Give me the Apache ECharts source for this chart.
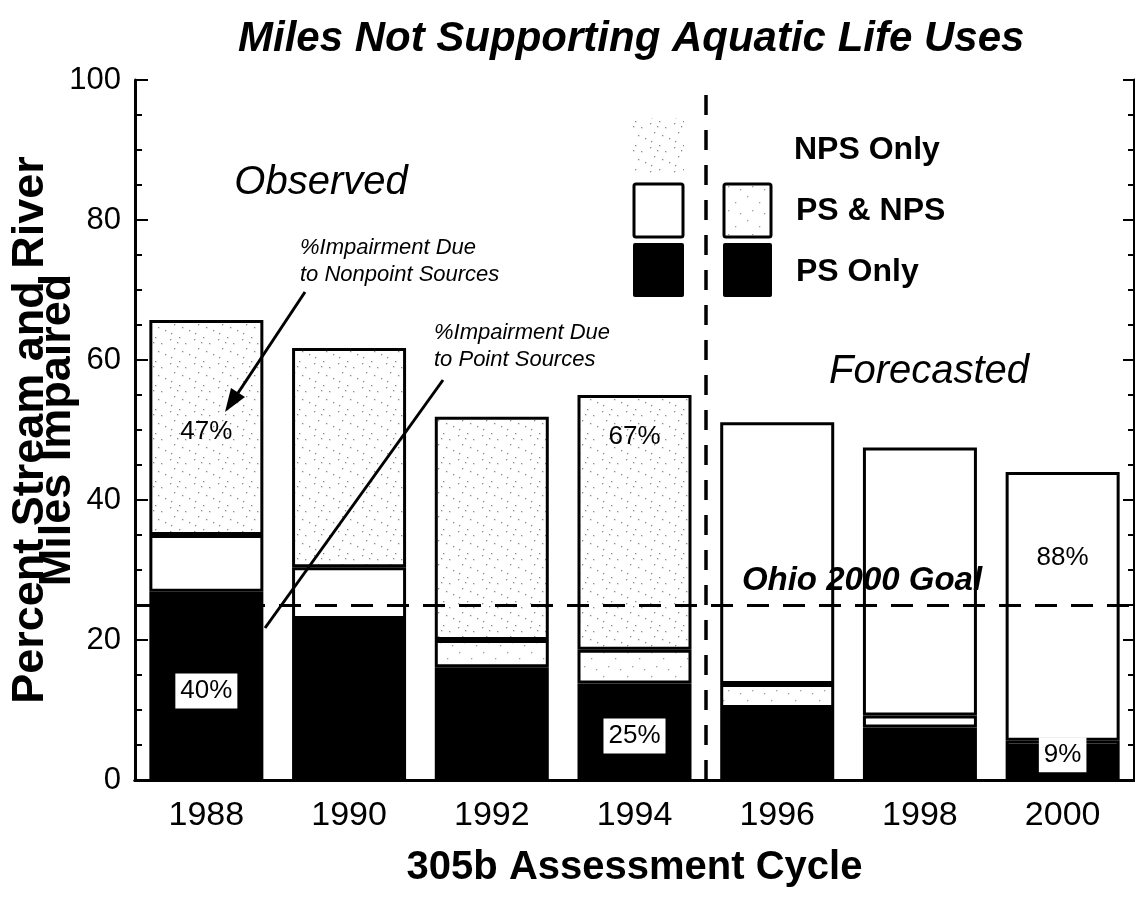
<!DOCTYPE html>
<html>
<head>
<meta charset="utf-8">
<title>Miles Not Supporting Aquatic Life Uses</title>
<script src="https://cdn.jsdelivr.net/npm/echarts@6/dist/echarts.min.js"></script>
<style>
  html, body { margin: 0; padding: 0; background: #fff; }
  #main { width: 1135px; height: 904px; }
</style>
</head>
<body>
<div id="main"></div>
<script>
// 数据
var years = ['1988', '1990', '1992', '1994', '1996', '1998', '2000'];
var psOnly = [26.9, 23.0, 16.1, 13.8, 10.3, 7.5, 4.7];
var psAndNps = [8.1, 7.4, 3.9, 4.8, 3.4, 1.7, 0.9];
var npsOnly = [30.7, 31.3, 31.9, 36.4, 37.4, 38.3, 38.4];
var observedCount = 4;   // 1988-1994 observed, rest forecasted
var goalValue = 25;      // Ohio 2000 Goal
var yTicks = [0, 20, 40, 60, 80, 100];

var FONT = '"Liberation Sans", Arial, Helvetica, sans-serif';

// stipple texture (fixed dot layout)
function makeStipple(dots, dotColor) {
    var c = document.createElement('canvas');
    c.width = 24; c.height = 24;
    var ctx = c.getContext('2d');
    ctx.fillStyle = '#fff';
    ctx.fillRect(0, 0, 24, 24);
    ctx.fillStyle = dotColor;
    dots.forEach(function (d) { ctx.fillRect(d[0], d[1], 1.3, 1.3); });
    return { image: c, repeat: 'repeat' };
}
var stippleDense = makeStipple([[2, 3], [11, 1], [17, 7], [6, 12], [14, 15], [21, 18], [3, 21], [9, 6]], '#8a8a8a');
var stippleLight = makeStipple([[3, 4], [15, 10], [8, 18], [20, 21]], '#a0a0a0');

var chart = echarts.init(document.getElementById('main'));

var psNpsData = psAndNps.map(function (v, i) {
    var lightDots = (i >= 2 && i <= 4);
    return { value: v, itemStyle: { color: lightDots ? stippleLight : '#fff' } };
});
var npsData = npsOnly.map(function (v, i) {
    return { value: v, itemStyle: { color: i < observedCount ? stippleDense : '#fff' } };
});

// percent labels on bars
var pctMarks = [
    { coord: ['1988', 49.7], value: '47%', boxed: false },
    { coord: ['1988', 12.7], value: '40%', boxed: true },
    { coord: ['1994', 49.0], value: '67%', boxed: false },
    { coord: ['1994', 6.3], value: '25%', boxed: true },
    { coord: ['2000', 31.7], value: '88%', boxed: false },
    { coord: ['2000', 3.6], value: '9%', boxed: true }
].map(function (m) {
    return {
        coord: m.coord,
        value: m.value,
        symbol: 'rect',
        symbolSize: 0,
        label: {
            show: true,
            position: 'inside',
            formatter: m.value,
            color: '#000',
            fontFamily: FONT,
            fontSize: 26,
            backgroundColor: m.boxed ? '#fff' : 'transparent',
            padding: m.boxed ? [5, 5, 4, 5] : 0
        }
    };
});

var barCommon = {
    type: 'bar',
    stack: 'total',
    barWidth: 114,
    animation: false,
    itemStyle: { borderColor: '#000', borderWidth: 3 },
    emphasis: { disabled: true }
};

var option = {
    backgroundColor: '#fff',
    animation: false,
    title: {
        text: 'Miles Not Supporting Aquatic Life Uses',
        left: 233,
        top: 13,
        textStyle: {
            fontFamily: FONT,
            fontSize: 42,
            fontWeight: 'bold',
            fontStyle: 'italic',
            color: '#000'
        }
    },
    grid: { left: 135, right: 1, top: 80, bottom: 124, containLabel: false, outerBoundsMode: 'none' },
    xAxis: [
        {
            type: 'category',
            data: years,
            position: 'bottom',
            axisLine: { lineStyle: { color: '#000', width: 3 } },
            axisTick: { inside: true, length: 14, lineStyle: { color: '#000', width: 2 } },
            axisLabel: { color: '#000', fontFamily: FONT, fontSize: 34, margin: 19 },
            name: '305b Assessment Cycle',
            nameLocation: 'middle',
            nameGap: 68,
            nameMoveOverlap: false,
            nameTextStyle: { color: '#000', fontFamily: FONT, fontSize: 40, fontWeight: 'bold' }
        },
        {
            type: 'category',
            data: years,
            position: 'top',
            axisLine: { lineStyle: { color: '#000', width: 3 } },
            axisTick: { inside: true, length: 14, lineStyle: { color: '#000', width: 2 } },
            axisLabel: { show: false }
        },
        {
            type: 'value',
            min: 0,
            max: years.length,
            show: false
        }
    ],
    yAxis: [
        {
            type: 'value',
            min: yTicks[0],
            max: yTicks[yTicks.length - 1],
            interval: 20,
            position: 'left',
            splitLine: { show: false },
            axisLine: { show: true, lineStyle: { color: '#000', width: 3 } },
            axisTick: { show: true, inside: true, length: 13, lineStyle: { color: '#000', width: 2 } },
            minorTick: { show: true, splitNumber: 4, length: 7, lineStyle: { color: '#000', width: 2 } },
            axisLabel: { color: '#000', fontFamily: FONT, fontSize: 31, margin: 14 },
            name: 'Percent Stream and River\nMiles Impaired',
            nameLocation: 'middle',
            nameGap: 64,
            nameMoveOverlap: false,
            nameTextStyle: { color: '#000', fontFamily: FONT, fontSize: 45, fontWeight: 'bold', lineHeight: 27 }
        },
        {
            type: 'value',
            min: yTicks[0],
            max: yTicks[yTicks.length - 1],
            interval: 20,
            position: 'right',
            splitLine: { show: false },
            axisLine: { show: true, lineStyle: { color: '#000', width: 3 } },
            axisTick: { show: true, inside: true, length: 11, lineStyle: { color: '#000', width: 2 } },
            minorTick: { show: true, splitNumber: 4, length: 6, lineStyle: { color: '#000', width: 2 } },
            axisLabel: { show: false }
        }
    ],
    series: [
        Object.assign({}, barCommon, {
            name: 'PS Only',
            data: psOnly,
            itemStyle: { color: '#000', borderColor: '#000', borderWidth: 3 },
            markPoint: { silent: true, data: pctMarks, z: 10 }
        }),
        Object.assign({}, barCommon, {
            name: 'PS & NPS',
            data: psNpsData
        }),
        Object.assign({}, barCommon, {
            name: 'NPS Only',
            data: npsData
        }),
        {
            // helper: dashed reference lines
            type: 'line',
            xAxisIndex: 2,
            yAxisIndex: 0,
            data: [],
            z: 5,
            silent: true,
            markLine: {
                silent: true,
                symbol: 'none',
                animation: false,
                label: { show: false },
                data: [
                    { yAxis: goalValue, lineStyle: { color: '#000', width: 3, type: [22, 14] } },
                    { xAxis: observedCount, lineStyle: { color: '#000', width: 3.5, type: [20, 15] } }
                ]
            }
        }
    ],
    graphic: [
        // area headings
        { type: 'text', z: 100, x: 321, y: 183, style: { text: 'Observed', fill: '#000', font: 'italic 40px ' + FONT, align: 'center', verticalAlign: 'middle' } },
        { type: 'text', z: 100, x: 929, y: 372, style: { text: 'Forecasted', fill: '#000', font: 'italic 40px ' + FONT, align: 'center', verticalAlign: 'middle' } },
        { type: 'text', z: 100, x: 862, y: 581, style: { text: 'Ohio 2000 Goal', fill: '#000', font: 'italic bold 33px ' + FONT, align: 'center', verticalAlign: 'middle' } },
        // annotations
        { type: 'text', z: 100, x: 300, y: 234, style: { text: '%Impairment Due\nto Nonpoint Sources', fill: '#000', font: 'italic 22px ' + FONT, lineHeight: 27, align: 'left', verticalAlign: 'top' } },
        { type: 'text', z: 100, x: 434, y: 319, style: { text: '%Impairment Due\nto Point Sources', fill: '#000', font: 'italic 22px ' + FONT, lineHeight: 27, align: 'left', verticalAlign: 'top' } },
        { type: 'line', z: 100, shape: { x1: 305, y1: 292, x2: 236, y2: 396 }, style: { stroke: '#000', lineWidth: 3 } },
        { type: 'polygon', z: 100, shape: { points: [[225, 412], [245, 397], [231, 388]] }, style: { fill: '#000' } },
        { type: 'line', z: 100, shape: { x1: 443, y1: 380, x2: 265, y2: 628 }, style: { stroke: '#000', lineWidth: 3 } },
        // legend swatches: observed column
        { type: 'rect', z: 100, shape: { x: 633, y: 118, width: 51, height: 56 }, style: { fill: stippleDense } },
        { type: 'rect', z: 100, shape: { x: 634, y: 184, width: 49, height: 53, r: 2 }, style: { fill: '#fff', stroke: '#000', lineWidth: 3 } },
        { type: 'rect', z: 100, shape: { x: 633, y: 243, width: 51, height: 54, r: 2 }, style: { fill: '#000' } },
        // legend swatches: forecasted column
        { type: 'rect', z: 100, shape: { x: 723, y: 118, width: 49, height: 56 }, style: { fill: '#fff' } },
        { type: 'rect', z: 100, shape: { x: 724, y: 184, width: 47, height: 53, r: 2 }, style: { fill: stippleLight, stroke: '#000', lineWidth: 3 } },
        { type: 'rect', z: 100, shape: { x: 723, y: 243, width: 49, height: 54, r: 2 }, style: { fill: '#000' } },
        // legend labels
        { type: 'text', z: 100, x: 794, y: 150, style: { text: 'NPS Only', fill: '#000', font: 'bold 32px ' + FONT, align: 'left', verticalAlign: 'middle' } },
        { type: 'text', z: 100, x: 796, y: 211, style: { text: 'PS & NPS', fill: '#000', font: 'bold 32px ' + FONT, align: 'left', verticalAlign: 'middle' } },
        { type: 'text', z: 100, x: 796, y: 272, style: { text: 'PS Only', fill: '#000', font: 'bold 32px ' + FONT, align: 'left', verticalAlign: 'middle' } }
    ]
};

chart.setOption(option);
</script>
</body>
</html>
